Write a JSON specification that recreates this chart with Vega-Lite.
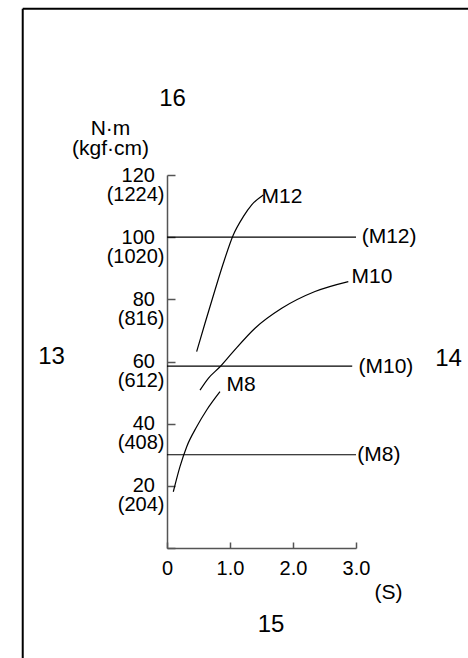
{
  "$schema": "https://vega.github.io/schema/vega-lite/v6.json",
  "width": 189,
  "height": 373,
  "autosize": {"type": "none"},
  "padding": {"left": 167, "top": 175, "right": 112, "bottom": 110},
  "background": "white",
  "config": {
    "view": {"stroke": null},
    "font": "Liberation Sans",
    "text": {"font": "Liberation Sans", "color": "black"}
  },
  "datasets": {
    "frame": [
      {"x": -2.29, "y": 173.5, "x2": -2.29, "y2": -45},
      {"x": -2.29, "y": 173.5, "x2": 5.2, "y2": 173.5}
    ],
    "levels": [
      {"series": "M12", "x": 0, "x2": 3.0, "y": 100},
      {"series": "M10", "x": 0, "x2": 2.94, "y": 58.5},
      {"series": "M8", "x": 0, "x2": 3.0, "y": 30}
    ],
    "curves": [
      {"series": "M12", "x": 0.471, "y": 63.2},
      {"series": "M12", "x": 0.603, "y": 72.3},
      {"series": "M12", "x": 0.762, "y": 83.0},
      {"series": "M12", "x": 0.894, "y": 91.6},
      {"series": "M12", "x": 1.052, "y": 100.7},
      {"series": "M12", "x": 1.211, "y": 106.6},
      {"series": "M12", "x": 1.344, "y": 110.4},
      {"series": "M12", "x": 1.529, "y": 113.6},
      {"series": "M10", "x": 0.524, "y": 50.8},
      {"series": "M10", "x": 0.656, "y": 54.6},
      {"series": "M10", "x": 0.841, "y": 58.3},
      {"series": "M10", "x": 1.027, "y": 62.6},
      {"series": "M10", "x": 1.397, "y": 70.7},
      {"series": "M10", "x": 1.821, "y": 77.1},
      {"series": "M10", "x": 2.349, "y": 82.5},
      {"series": "M10", "x": 2.878, "y": 85.7},
      {"series": "M8", "x": 0.1, "y": 18.1},
      {"series": "M8", "x": 0.206, "y": 26.2},
      {"series": "M8", "x": 0.313, "y": 32.6},
      {"series": "M8", "x": 0.471, "y": 39.0},
      {"series": "M8", "x": 0.63, "y": 44.4},
      {"series": "M8", "x": 0.841, "y": 50.3}
    ],
    "curveLabels": [
      {"x": 1.5, "y": 113.0, "label": "M12"},
      {"x": 2.929, "y": 87.2, "label": "M10"},
      {"x": 0.944, "y": 52.6, "label": "M8"},
      {"x": 3.09, "y": 100, "label": "(M12)"},
      {"x": 3.04, "y": 58.2, "label": "(M10)"},
      {"x": 3.02, "y": 30, "label": "(M8)"}
    ],
    "callouts": [
      {"x": -1.833, "y": 61.45, "label": "13"},
      {"x": 4.47, "y": 60.7, "label": "14"},
      {"x": 1.651, "y": -24.8, "label": "15"},
      {"x": 0.087, "y": 144.6, "label": "16"}
    ]
  },
  "encoding": {
    "x": {
      "field": "x",
      "type": "quantitative",
      "scale": {"domain": [0, 3], "nice": false, "zero": false},
      "axis": {
        "values": [0, 1, 2, 3],
        "labelExpr": "datum.value == 0 ? '0' : format(datum.value, '.1f')",
        "labelFont": "Liberation Sans",
        "labelFontSize": 20,
        "labelColor": "black",
        "labelAlign": "center",
        "labelPadding": 16,
        "labelFlush": false,
        "labelOverlap": false,
        "labelBound": false,
        "tickSize": -6,
        "tickColor": "#555",
        "tickWidth": 1.5,
        "domainColor": "#555",
        "domainWidth": 1.5,
        "grid": false,
        "title": "(S)",
        "titleFont": "Liberation Sans",
        "titleFontSize": 21,
        "titleFontWeight": "normal",
        "titleColor": "black",
        "titleAngle": 0,
        "titleAlign": "center",
        "titleBaseline": "middle",
        "titleX": 221,
        "titleY": 44
      }
    },
    "y": {
      "field": "y",
      "type": "quantitative",
      "scale": {"domain": [0, 120], "nice": false, "zero": false},
      "axis": {
        "values": [0, 20, 40, 60, 80, 100, 120],
        "labelExpr": "datum.value == 0 ? '' : [datum.label + '\u00a0\u2009\u2060', '(' + format(datum.value * 10.2, 'd') + ')']",
        "labelFont": "Liberation Sans",
        "labelFontSize": 20,
        "labelLineHeight": 19,
        "labelColor": "black",
        "labelAlign": "right",
        "labelBaseline": "middle",
        "labelOffset": 0,
        "labelPadding": 11,
        "labelFlush": false,
        "labelOverlap": false,
        "labelBound": false,
        "tickSize": -8,
        "tickColor": "#555",
        "tickWidth": 1.5,
        "domainColor": "#555",
        "domainWidth": 1.5,
        "grid": false,
        "title": ["N·m", "(kgf·cm)"],
        "titleFont": "Liberation Sans",
        "titleFontSize": 21,
        "titleFontWeight": "normal",
        "titleColor": "black",
        "titleAngle": 0,
        "titleAlign": "center",
        "titleBaseline": "middle",
        "titleLineHeight": 20,
        "titleX": -57,
        "titleY": -47
      }
    }
  },
  "layer": [
    {
      "data": {"name": "frame"},
      "mark": {"type": "rule", "color": "black", "strokeWidth": 2},
      "encoding": {"x2": {"field": "x2"}, "y2": {"field": "y2"}}
    },
    {
      "data": {"name": "levels"},
      "mark": {"type": "rule", "color": "black", "strokeWidth": 1.2},
      "encoding": {"x2": {"field": "x2"}, "detail": {"field": "series"}}
    },
    {
      "data": {"name": "curves"},
      "mark": {"type": "line", "color": "black", "strokeWidth": 1.2, "interpolate": "monotone"},
      "encoding": {"detail": {"field": "series"}}
    },
    {
      "data": {"name": "curveLabels"},
      "mark": {"type": "text", "fontSize": 21, "align": "left", "baseline": "middle", "color": "black", "font": "Liberation Sans"},
      "encoding": {"text": {"field": "label"}}
    },
    {
      "data": {"name": "callouts"},
      "mark": {"type": "text", "fontSize": 24, "align": "center", "baseline": "middle", "color": "black", "font": "Liberation Sans"},
      "encoding": {"text": {"field": "label"}}
    }
  ]
}
